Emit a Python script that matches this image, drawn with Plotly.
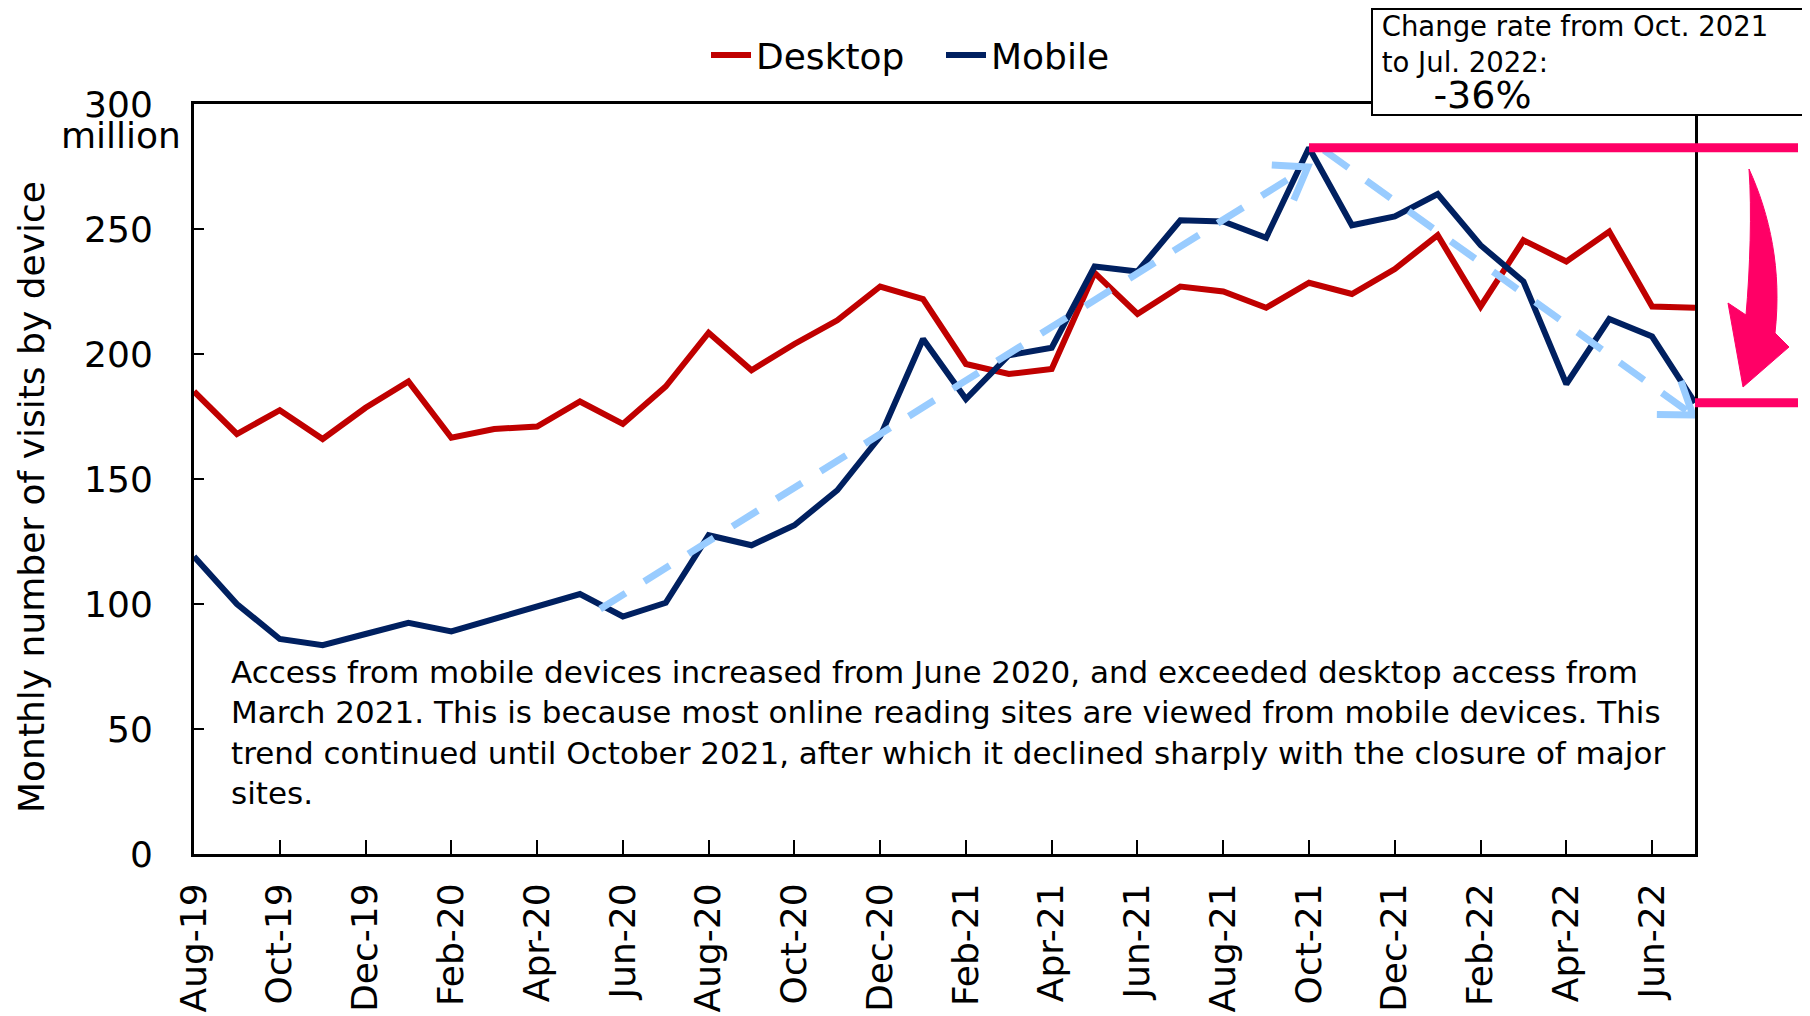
import math
import pandas as pd
import plotly.graph_objects as go

# monthly visits by device, millions, Aug-2019 .. Jul-2022
months = pd.date_range("2019-08-01", "2022-07-01", freq="MS").strftime("%b-%y").tolist()
desktop = [185, 168, 177.5, 166, 178.5, 189, 166.5, 170, 171, 181, 172, 187,
           208.5, 193.5, 204, 213.5, 227, 222, 196, 192, 194, 232.5, 216, 227,
           225, 218.5, 228.5, 224, 234, 247.5, 219, 245.5, 237, 249, 219, 218.5]
mobile = [119, 100, 86, 83.5, 88, 92.5, 89, 94, 98.5, 104, 95, 100.5,
          127.5, 123.5, 131.5, 145.5, 167, 206, 182, 199.5, 202.5, 235, 233, 253.5,
          253, 246.5, 282.5, 251.5, 255, 264, 243.5, 229, 188, 214, 207, 180.5]

# light blue trend arrows (month index, value)
rise_x = [9.47, 25.97]
rise_y = [98, 274.8]
fall_x = [26.35, 34.95]
fall_y = [281.5, 175.6]

x = list(range(len(months)))
peak_i = 26  # Oct-21
last_i = len(months) - 1
rate = (mobile[last_i] / mobile[peak_i] - 1) * 100

RED = "#C00000"
NAVY = "#002060"
SKY = "#99CCFF"
PINK = "#FF0066"
FONT = "DejaVu Sans"

# page has an 8px body margin; figure sized to fit the window
OFF = 8
W, H = 1802, 1008
L, R, T, B = 186, 115, 96, 162
pw, ph = W - L - R, H - T - B
YMAX = 300


def px(X):
    return (X - OFF - L) / pw


def py(Y):
    return (H - B - (Y - OFF)) / ph


def chevron(xs, ys, arm=36, ang=35):
    # open arrow head at the end of a segment, built in pixel space
    sx, sy = pw / last_i, ph / YMAX
    dx = (xs[1] - xs[0]) * sx
    dy = (ys[1] - ys[0]) * sy
    n = math.hypot(dx, dy)
    dx, dy = dx / n, dy / n
    out_x, out_y = [], []
    for a in (ang, None, -ang):
        if a is None:
            out_x.append(xs[1])
            out_y.append(ys[1])
            continue
        r = math.radians(a)
        bx = -(dx * math.cos(r) - dy * math.sin(r))
        by = -(dx * math.sin(r) + dy * math.cos(r))
        out_x.append(xs[1] + bx * arm / sx)
        out_y.append(ys[1] + by * arm / sy)
    return out_x, out_y


fig = go.Figure()
fig.add_trace(go.Scatter(x=x, y=desktop, mode="lines", name="Desktop",
                         line=dict(color=RED, width=6)))
fig.add_trace(go.Scatter(x=x, y=mobile, mode="lines", name="Mobile",
                         line=dict(color=NAVY, width=6)))
for tx, ty in [(rise_x, rise_y), (fall_x, fall_y)]:
    fig.add_trace(go.Scatter(x=tx, y=ty, mode="lines", showlegend=False,
                             line=dict(color=SKY, width=7, dash="30px,22px")))
    cx, cy = chevron(tx, ty)
    fig.add_trace(go.Scatter(x=cx, y=cy, mode="lines", showlegend=False,
                             line=dict(color=SKY, width=7)))

# pink reference lines at peak and last value
fig.add_shape(type="line", xref="paper", yref="y", x0=peak_i / last_i, x1=px(1798),
              y0=mobile[peak_i], y1=mobile[peak_i], line=dict(color=PINK, width=9))
fig.add_shape(type="line", xref="paper", yref="y", x0=1, x1=px(1798),
              y0=mobile[last_i], y1=mobile[last_i], line=dict(color=PINK, width=9))

# curved pink arrow
pts = {
    "top": (1749, 169), "c1": (1770, 215), "c2": (1782, 270), "r1": (1775, 333),
    "rb": (1789, 347), "tip": (1743, 387), "lb": (1728, 303), "l1": (1746, 315),
    "c3": (1750, 270), "c4": (1752, 210),
}
P = {k: (px(a), py(b)) for k, (a, b) in pts.items()}
path = ("M {top[0]},{top[1]} C {c1[0]},{c1[1]} {c2[0]},{c2[1]} {r1[0]},{r1[1]} "
        "L {rb[0]},{rb[1]} L {tip[0]},{tip[1]} L {lb[0]},{lb[1]} L {l1[0]},{l1[1]} "
        "C {c3[0]},{c3[1]} {c4[0]},{c4[1]} {top[0]},{top[1]} Z").format(**P)
fig.add_shape(type="path", xref="paper", yref="paper", path=path,
              fillcolor=PINK, line=dict(color=PINK, width=1))

fig.add_annotation(xref="paper", yref="paper", x=px(1806), y=py(8),
                   xanchor="right", yanchor="top", showarrow=False, align="left",
                   width=431, height=104, valign="top",
                   bordercolor="black", borderwidth=2, bgcolor="white", borderpad=0,
                   text=(" Change rate from Oct. 2021<br> to Jul. 2022:<br>"
                         "<span style='font-size:38px'>     %d%%</span>" % round(rate)),
                   font=dict(size=27.5, color="black", family=FONT))

fig.add_annotation(xref="paper", yref="paper", x=px(229), y=py(652),
                   xanchor="left", yanchor="top", showarrow=False, align="left",
                   text=("Access from mobile devices increased from June 2020, and exceeded desktop access from<br>"
                         "March 2021. This is because most online reading sites are viewed from mobile devices. This<br>"
                         "trend continued until October 2021, after which it declined sharply with the closure of major<br>"
                         "sites."),
                   font=dict(size=31, color="black", family=FONT))

fig.add_annotation(xref="paper", yref="paper", x=px(121), y=py(136),
                   xanchor="center", yanchor="middle", showarrow=False,
                   text="million", font=dict(size=36, color="black", family=FONT))

# y-axis title placed as rotated text
fig.add_annotation(xref="paper", yref="paper", x=px(31), y=py(497),
                   xanchor="center", yanchor="middle", showarrow=False, textangle=-90,
                   text="Monthly number of visits by device",
                   font=dict(size=36, color="black", family=FONT))

fig.update_layout(
    width=W, height=H,
    margin=dict(l=L, r=R, t=T, b=B),
    plot_bgcolor="white", paper_bgcolor="white",
    font=dict(family=FONT, size=36, color="black"),
    showlegend=True,
    legend=dict(orientation="h", x=px(941), y=py(55), xanchor="center", yanchor="middle",
                font=dict(size=36), itemwidth=40, entrywidth=180, tracegroupgap=0),
    xaxis=dict(range=[0, last_i], tickvals=x[::2], ticktext=months[::2], tickangle=-90,
               ticks="inside", ticklen=14, tickwidth=1.5, tickcolor="black",
               ticklabelstandoff=12, automargin=False,
               showline=True, linecolor="black", linewidth=3, mirror=True,
               showgrid=False, zeroline=False, tickfont=dict(size=36)),
    yaxis=dict(range=[0, YMAX], tickvals=[0, 50, 100, 150, 200, 250, 300],
               ticks="inside", ticklen=10, tickwidth=1.5, tickcolor="black",
               ticklabelstandoff=31, automargin=False,
               showline=True, linecolor="black", linewidth=3, mirror=True,
               showgrid=False, zeroline=False, tickfont=dict(size=36)),
)

fig.write_html("out.html")
